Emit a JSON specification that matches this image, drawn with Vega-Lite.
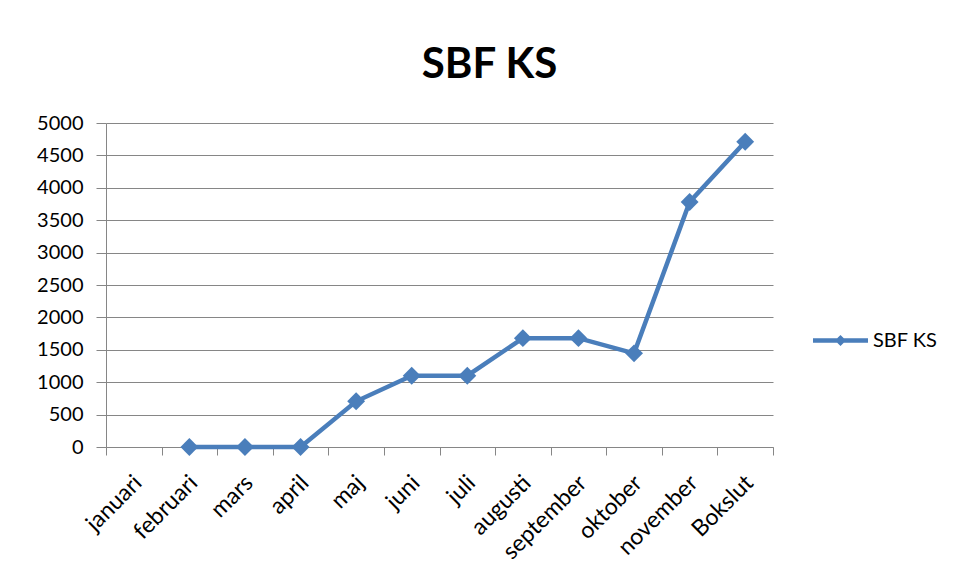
{
  "$schema": "https://vega.github.io/schema/vega-lite/v6.json",
  "width": 667,
  "height": 324,
  "autosize": "none",
  "padding": {"left": 106, "top": 123, "right": 186, "bottom": 133},
  "background": "white",
  "config": {"font": "Lato", "view": {"stroke": null}},
  "title": {"text": "SBF KS", "font": "Lato", "fontSize": 42, "fontWeight": "bold", "color": "black", "anchor": "middle", "frame": "group", "baseline": "alphabetic", "offset": -7, "dx": 50},
  "data": {"values": [
    {"month": "januari", "value": null},
    {"month": "februari", "value": 0},
    {"month": "mars", "value": 0},
    {"month": "april", "value": 0},
    {"month": "maj", "value": 705},
    {"month": "juni", "value": 1100},
    {"month": "juli", "value": 1100},
    {"month": "augusti", "value": 1680},
    {"month": "september", "value": 1680},
    {"month": "oktober", "value": 1445},
    {"month": "november", "value": 3780},
    {"month": "Bokslut", "value": 4710}
  ]},
  "encoding": {
    "x": {
      "field": "month", "type": "nominal", "sort": null, "bandPosition": 0.5,
      "scale": {"type": "band", "paddingInner": 0, "paddingOuter": 0,
        "domain": ["januari", "februari", "mars", "april", "maj", "juni", "juli", "augusti", "september", "oktober", "november", "Bokslut"]},
      "axis": {"title": null, "grid": false, "tickBand": "extent", "tickSize": 8, "tickColor": "#868686", "domainColor": "#868686", "domainWidth": 1, "labelAngle": -45, "labelAlign": "right", "labelBaseline": "middle", "labelFontSize": 23, "labelColor": "black", "labelPadding": 24, "labelOffset": 4}
    },
    "y": {
      "field": "value", "type": "quantitative",
      "scale": {"domain": [0, 5000], "nice": false},
      "axis": {"title": null, "format": "d", "values": [0, 500, 1000, 1500, 2000, 2500, 3000, 3500, 4000, 4500, 5000], "grid": true, "gridColor": "#868686", "gridWidth": 1, "tickSize": 10, "tickColor": "#868686", "domainColor": "#868686", "labelFontSize": 20, "labelColor": "black", "labelPadding": 13}
    },
    "color": {
      "datum": "SBF KS", "type": "nominal",
      "scale": {"range": ["#4a7ebb"]},
      "legend": {
        "title": null, "orient": "none", "legendX": 707, "legendY": 190,
        "symbolType": "M-1,-0.08L-0.12,-0.08L0,-0.2L0.12,-0.08L1,-0.08L1,0.08L0.12,0.08L0,0.2L-0.12,0.08L-1,0.08Z",
        "symbolSize": 3025, "labelFontSize": 20, "labelColor": "black", "labelOffset": 5,
        "encode": {"symbols": {"update": {"fill": {"value": "#4a7ebb"}, "stroke": {"value": "transparent"}, "strokeWidth": {"value": 0}, "opacity": {"value": 1}}}}
      }
    }
  },
  "layer": [
    {"mark": {"type": "line", "strokeWidth": 4.5}},
    {"mark": {"type": "point", "shape": "diamond", "filled": true, "size": 320, "opacity": 1}}
  ]
}
